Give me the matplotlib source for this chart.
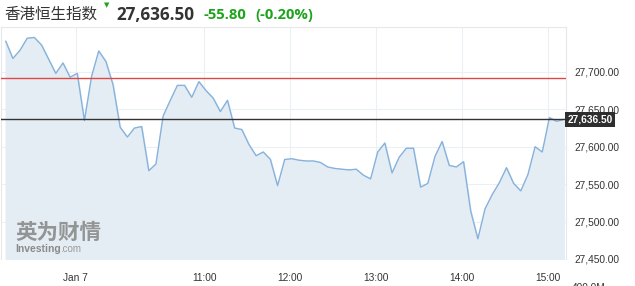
import numpy as np
import matplotlib.pyplot as plt

# 恒生指数 5分钟数据 (Jan 7)
values = [27741, 27718, 27729, 27745, 27746, 27736, 27717, 27698, 27712, 27693,
          27698, 27635, 27694, 27728, 27714, 27683, 27626, 27613, 27625, 27627,
          27568, 27577, 27641, 27662, 27682, 27682, 27666, 27687, 27675, 27665,
          27647, 27662, 27625, 27623, 27603, 27588, 27593, 27583, 27548, 27583,
          27584, 27582, 27581, 27581, 27579, 27573, 27571, 27570, 27569, 27570,
          27562, 27557, 27593, 27605, 27565, 27586, 27598, 27598, 27546, 27551,
          27587, 27607, 27575, 27573, 27580, 27514, 27477, 27517, 27536, 27552,
          27572, 27551, 27541, 27563, 27600, 27593, 27639, 27634, 27636.5]
start_min = 521.2          # 第一个点的时间 (分钟)
step_min = 5
times = start_min + step_min * np.arange(len(values))

prev_close = 27692.30
last_price = 27636.50
change = "-55.80"
change_pct = "(-0.20%)"

xtick_pos = [570, 660, 720, 780, 840, 900]
xtick_labels = ["Jan 7", "11:00", "12:00", "13:00", "14:00", "15:00"]
ytick_vals = [27450, 27500, 27550, 27600, 27650, 27700]

W, H = 635, 286
fig = plt.figure(figsize=(W / 100, H / 100), dpi=100)
ax = fig.add_axes([1 / W, 1 - 259 / H, 565 / W, 232 / H])

ax.fill_between(times, values, 27400, color="#e4edf4", zorder=1)
ax.plot(times, values, color="#86b2dc", lw=1.0, zorder=3)
ax.axhline(prev_close, color="#e04848", lw=1.0, zorder=4)
ax.axhline(last_price, color="#333333", lw=1.0, zorder=4)

ax.set_xlim(517.9, 912.8)
ax.set_ylim(27450, 27760)
ax.set_xticks(xtick_pos)
ax.set_xticklabels(xtick_labels)
ax.set_yticks(ytick_vals)
ax.set_yticklabels([f"{v:,.2f}" for v in ytick_vals])
ax.yaxis.tick_right()
ax.tick_params(length=0, labelsize=7.3, colors="#333333", pad=6)
ax.tick_params(axis="x", pad=10)
for lab in ax.get_xticklabels() + ax.get_yticklabels():
    lab.set_family("Liberation Sans")
ax.grid(True, color="#eceff3", lw=0.8, zorder=0)
ax.set_axisbelow(True)
for s in ["left", "top", "right"]:
    ax.spines[s].set_color("#e6e8ee")
    ax.spines[s].set_linewidth(0.8)
ax.spines["bottom"].set_visible(False)

# 当前价格标签
ax.text(1.003, last_price, f"{last_price:,.2f}", transform=ax.get_yaxis_transform(),
        ha="left", va="center", fontsize=7.3, color="white", weight="bold",
        family="Liberation Sans", zorder=6,
        bbox=dict(boxstyle="square,pad=0.25", fc="#2e2e2e", ec="none"))

# 被截断的成交量标签
fig.text(572 / W, 1 - 288 / H, "400.0M", fontsize=7.3, color="#333333",
         family="Liberation Sans", ha="left", va="center")

# 标题
fig.text(4 / W, 1 - 14 / H, "香港恒生指数", fontsize=11.2, color="#333333",
         family=["Noto Sans CJK SC", "DejaVu Sans"], ha="left", va="center")
fig.text(104 / W, 1 - 5 / H, "▼", fontsize=5, color="#1fa31f",
         family="DejaVu Sans", ha="left", va="center")
fig.text(116 / W, 1 - 15 / H, f"{last_price:,.2f}", fontsize=12.3, color="#333333",
         family="Open Sans", weight="bold", ha="left", va="center")
fig.text(203 / W, 1 - 15 / H, change, fontsize=10.7, color="#1fa31f",
         family="Open Sans", weight="bold", ha="left", va="center")
fig.text(255 / W, 1 - 15 / H, change_pct, fontsize=10.7, color="#1fa31f",
         family="Open Sans", weight="bold", ha="left", va="center")

# 水印
fig.text(15 / W, 1 - 232 / H, "英为财情", fontsize=15.5, color="#8a8a8a",
         family=["Noto Sans CJK SC", "DejaVu Sans"], weight="bold",
         ha="left", va="center", alpha=0.9)
fig.text(15 / W, 1 - 249 / H, "Investing", fontsize=7.5, color="#8a8a8a",
         family="Liberation Sans", weight="bold", ha="left", va="center")
fig.text(60 / W, 1 - 249 / H, ".com", fontsize=7, color="#9a9a9a",
         family="Liberation Sans", ha="left", va="center")

fig.savefig("out.png", dpi=100)
